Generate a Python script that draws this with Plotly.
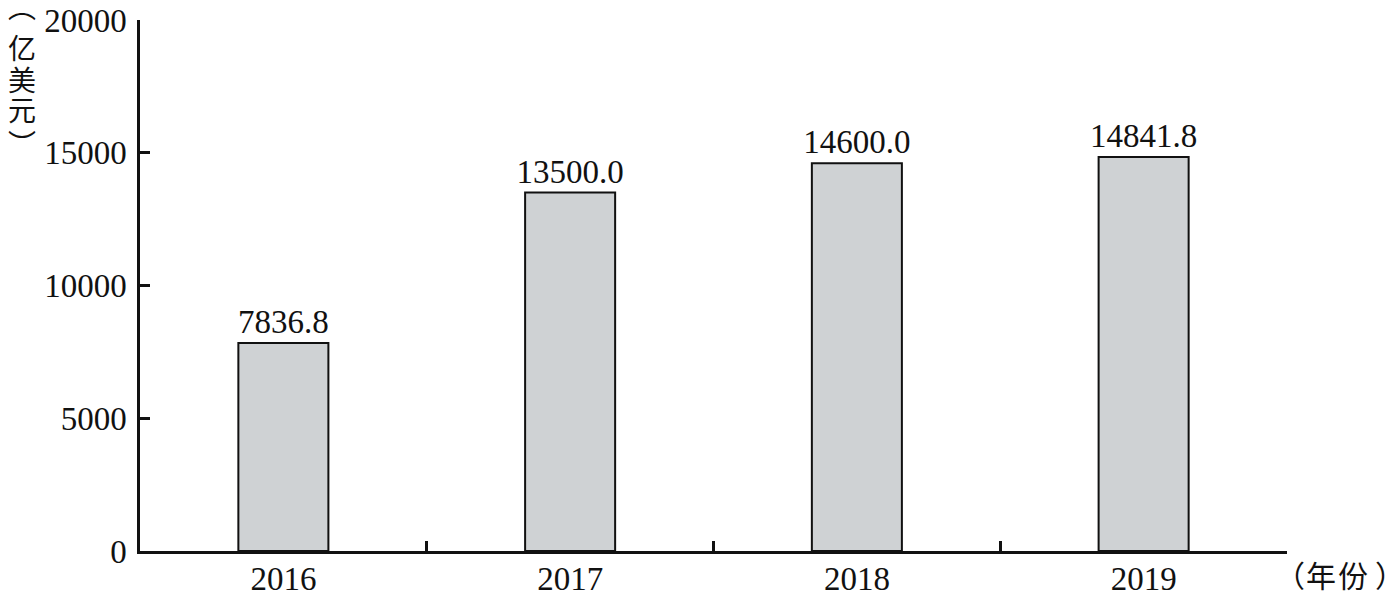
import plotly.graph_objects as go

years = ["2016", "2017", "2018", "2019"]
values = [7836.8, 13500.0, 14600.0, 14841.8]
labels = ["7836.8", "13500.0", "14600.0", "14841.8"]
y_ticks = [0, 5000, 10000, 15000, 20000]
y_title_chars = ["︵", "亿", "美", "元", "︶"]
x_title_chars = ["（", "年", "份", "）"]

serif = "Liberation Serif, Times New Roman, serif"
cjk = "Noto Sans CJK SC, sans-serif"

# page body has an 8px margin; size the figure to fit the window
W, H = 1387, 588
L, R, T, B = 132, 108, 12, 45
pw, ph = W - L - R, H - T - B


def px_to_paper(xp, yp):
    # convert window pixel coords to paper coords
    return (xp - 8 - L) / pw, 1 - (yp - 8 - T) / ph


fig = go.Figure()
fig.add_trace(go.Bar(
    x=years, y=values, text=labels, textposition="outside",
    textfont=dict(family=serif, size=33, color="#111111"),
    constraintext="none",
    marker=dict(color="#cfd2d4", line=dict(color="#111111", width=2)),
    width=0.314, cliponaxis=False,
))

annotations = []
for ch, cy in zip(y_title_chars, [6, 47, 79, 109, 143]):
    ax, ay = px_to_paper(22, cy)
    annotations.append(dict(text=ch, xref="paper", yref="paper", x=ax, y=ay,
                            xanchor="center", yanchor="middle", showarrow=False,
                            font=dict(family=cjk, size=28, color="#111111")))
for ch, cx in zip(x_title_chars, [1290, 1321, 1353, 1390]):
    ax, ay = px_to_paper(cx, 574)
    annotations.append(dict(text=ch, xref="paper", yref="paper", x=ax, y=ay,
                            xanchor="center", yanchor="middle", showarrow=False,
                            font=dict(family=cjk, size=30, color="#111111")))

fig.update_layout(
    width=W, height=H,
    margin=dict(l=L, r=R, t=T, b=B, autoexpand=False),
    plot_bgcolor="white", paper_bgcolor="white",
    showlegend=False,
    font=dict(family=serif, size=33, color="#111111"),
    xaxis=dict(
        automargin=False,
        showline=True, linecolor="#111111", linewidth=2.5,
        ticks="inside", tickson="boundaries", ticklen=10, tickwidth=2.5, tickcolor="#111111",
        tickfont=dict(family=serif, size=33, color="#111111"),
        ticklabelstandoff=-3, ticklabeloverflow="allow",
        showgrid=False, zeroline=False,
    ),
    yaxis=dict(
        automargin=False,
        range=[0, 20000], tickvals=y_ticks, ticktext=[str(v) for v in y_ticks],
        showline=True, linecolor="#111111", linewidth=2.5,
        ticks="inside", ticklen=10, tickwidth=2.5, tickcolor="#111111",
        tickfont=dict(family=serif, size=33, color="#111111"),
        ticklabelstandoff=4, ticklabeloverflow="allow",
        showgrid=False, zeroline=False,
    ),
    annotations=annotations,
)

fig.write_html("out.html")
